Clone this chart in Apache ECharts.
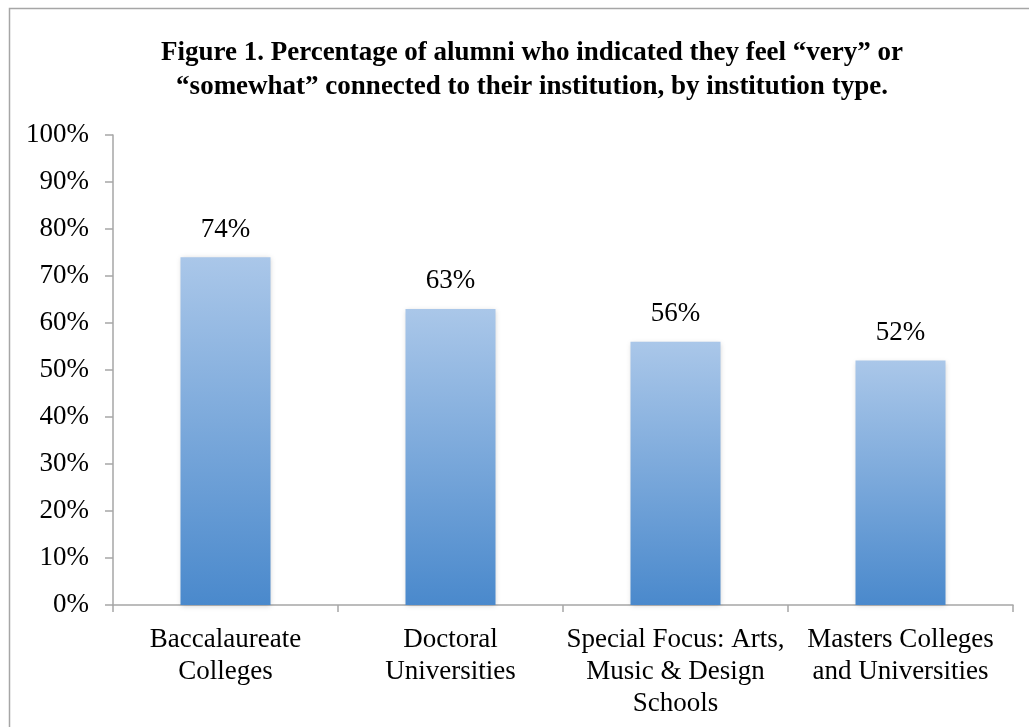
<!DOCTYPE html>
<html>
<head>
<meta charset="utf-8">
<script src="https://cdn.jsdelivr.net/npm/echarts@6/dist/echarts.min.js"></script>
<style>
  html, body { margin: 0; padding: 0; background: #fff; }
  #chart { width: 1029px; height: 727px; }
</style>
</head>
<body>
<div id="chart"></div>
<script>
const categories = [
  'Baccalaureate\nColleges',
  'Doctoral\nUniversities',
  'Special Focus: Arts,\nMusic & Design\nSchools',
  'Masters Colleges\nand Universities'
]
const values = [74, 63, 56, 52]
const yTicks = [0, 10, 20, 30, 40, 50, 60, 70, 80, 90, 100]

const font = '"Liberation Serif", "Times New Roman", serif'

const chart = echarts.init(document.getElementById('chart'))
chart.setOption({
  backgroundColor: '#fff',
  animation: false,
  title: {
    text: 'Figure 1. Percentage of alumni who indicated they feel \u201cvery\u201d or\n\u201csomewhat\u201d connected to their institution, by institution type.',
    left: 527,
    top: 31,
    textAlign: 'center',
    textStyle: {
      fontFamily: font,
      fontWeight: 'bold',
      fontSize: 27,
      lineHeight: 34,
      color: '#000'
    }
  },
  graphic: [{
    type: 'rect',
    shape: { x: 9.5, y: 8.5, width: 1100, height: 800 },
    style: { fill: 'none', stroke: '#a6a6a6', lineWidth: 1.5 },
    silent: true
  }],
  grid: {
    left: 113,
    right: 16,
    top: 135,
    bottom: 122
  },
  xAxis: {
    type: 'category',
    data: categories,
    axisLine: { lineStyle: { color: '#a6a6a6', width: 1.5 } },
    axisTick: { show: true, alignWithLabel: false, length: 7, lineStyle: { color: '#a6a6a6', width: 1.5 } },
    axisLabel: {
      fontFamily: font,
      fontSize: 27,
      lineHeight: 32,
      color: '#000',
      margin: 19,
      interval: 0
    }
  },
  yAxis: {
    type: 'value',
    min: yTicks[0],
    max: yTicks[yTicks.length - 1],
    interval: 10,
    splitLine: { show: false },
    axisLine: { show: true, lineStyle: { color: '#a6a6a6', width: 1.5 } },
    axisTick: { show: true, length: 8, lineStyle: { color: '#a6a6a6', width: 1.5 } },
    axisLabel: {
      fontFamily: font,
      fontSize: 27,
      color: '#000',
      margin: 24,
      formatter: v => v + '%'
    }
  },
  series: [{
    type: 'bar',
    data: values,
    barWidth: '40%',
    itemStyle: {
      color: new echarts.graphic.LinearGradient(0, 0, 0, 1, [
        { offset: 0, color: '#aac7e9' },
        { offset: 1, color: '#4a89cc' }
      ]),
      shadowColor: 'rgba(0,0,0,0.18)',
      shadowBlur: 5,
      shadowOffsetX: 0,
      shadowOffsetY: 1
    },
    label: {
      show: true,
      position: 'top',
      distance: 14,
      fontFamily: font,
      fontSize: 27,
      color: '#000',
      formatter: p => p.value + '%'
    }
  }]
})
</script>
</body>
</html>
